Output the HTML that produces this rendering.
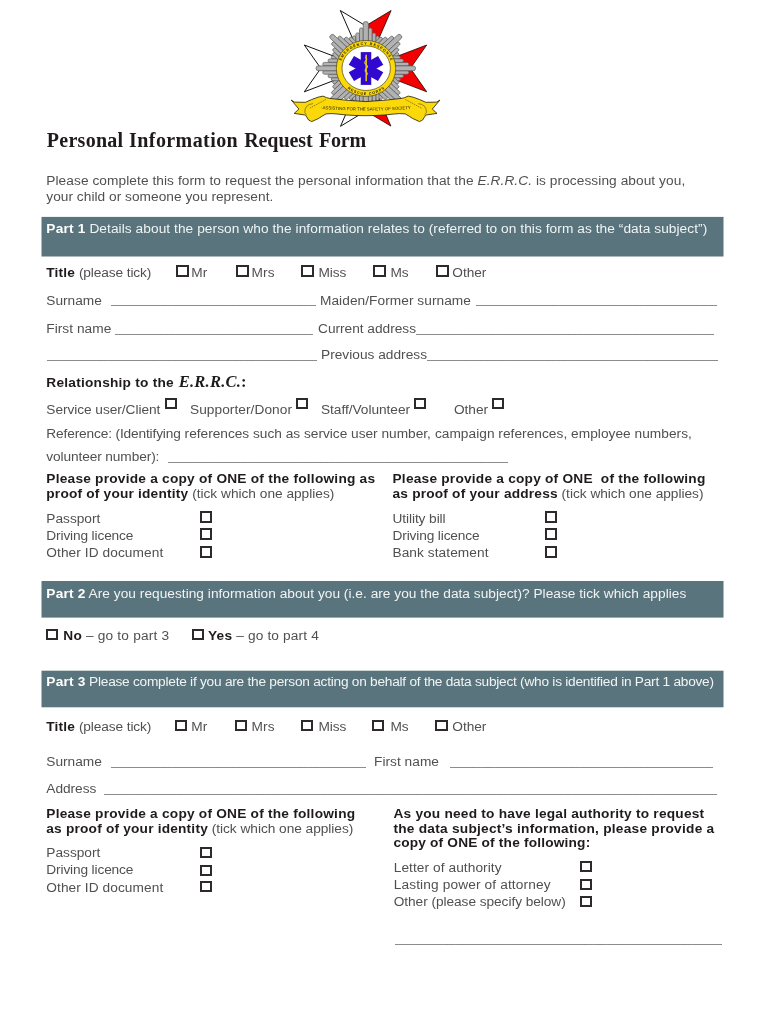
<!DOCTYPE html>
<html lang="en"><head><meta charset="utf-8"><title>Personal Information Request Form</title>
<style>
html,body{margin:0;padding:0;background:#fff;}
body{width:770px;height:1024px;position:relative;overflow:hidden;font-family:"Liberation Sans",sans-serif;color:#505052;}
.t{position:absolute;white-space:pre;line-height:1;margin:0;padding:0;}
.b{font-weight:bold;color:#1f1b1c;}
span.b{letter-spacing:.2px;}
.w{color:#f1f4f5;}
.w .b{color:#fff;}
.i{font-style:italic;}
.u{color:#77777a;padding-bottom:4px;}
.bars{position:absolute;left:0;top:0;}
.cb{position:absolute;box-sizing:border-box;border-style:solid;border-color:#2e2a2b;background:#fff;}
.serif{font-family:"Liberation Serif",serif;}
#logo{position:absolute;left:280px;top:0;}
</style></head>
<body>
<svg id="logo" width="170" height="130" viewBox="280 0 170 130">
<g>
<polygon points="365.8,68.3 340.3,10.5 365.7,25.8" fill="#fff" stroke="#111" stroke-width="1.0" stroke-linejoin="miter" />
<polygon points="365.8,68.3 304.3,45.0 320.8,68.3 304.3,91.8" fill="#fff" stroke="#111" stroke-width="1.0" stroke-linejoin="miter" />
<polygon points="365.8,68.3 340.5,126.3 365.7,111.0" fill="#fff" stroke="#111" stroke-width="1.0" stroke-linejoin="miter" />
<polygon points="365.8,68.3 391.1,10.5 365.7,25.8" fill="#f40000" stroke="#220303" stroke-width="0.8" stroke-linejoin="miter" />
<polygon points="365.8,68.3 426.7,45.0 410.4,68.3 426.7,91.8" fill="#f40000" stroke="#220303" stroke-width="0.8" stroke-linejoin="miter" />
<polygon points="365.8,68.3 390.9,126.1 365.7,111.0" fill="#f40000" stroke="#220303" stroke-width="0.8" stroke-linejoin="miter" />
</g>
<g transform="translate(365.8,68.3) scale(1.065,1)">
<circle r="31.5" fill="#b2b2b2"/>
<g transform="rotate(0)">
<rect x="9.40" y="-32.40" width="3.00" height="12.40" rx="1.6" fill="#b2b2b2" stroke="#5c5c5c" stroke-width="0.7"/>
<rect x="-12.40" y="-32.40" width="3.00" height="12.40" rx="1.6" fill="#b2b2b2" stroke="#5c5c5c" stroke-width="0.7"/>
<rect x="5.90" y="-35.40" width="3.50" height="15.40" rx="1.6" fill="#b2b2b2" stroke="#5c5c5c" stroke-width="0.7"/>
<rect x="-9.40" y="-35.40" width="3.50" height="15.40" rx="1.6" fill="#b2b2b2" stroke="#5c5c5c" stroke-width="0.7"/>
<rect x="2.40" y="-40.40" width="3.50" height="20.40" rx="1.6" fill="#b2b2b2" stroke="#5c5c5c" stroke-width="0.7"/>
<rect x="-5.90" y="-40.40" width="3.50" height="20.40" rx="1.6" fill="#b2b2b2" stroke="#5c5c5c" stroke-width="0.7"/>
<rect x="-2.4" y="-46.7" width="4.8" height="27" rx="2.2" fill="#b2b2b2" stroke="#5c5c5c" stroke-width="0.7"/>
</g>
<g transform="rotate(45)">
<rect x="9.40" y="-32.40" width="3.00" height="12.40" rx="1.6" fill="#b2b2b2" stroke="#5c5c5c" stroke-width="0.7"/>
<rect x="-12.40" y="-32.40" width="3.00" height="12.40" rx="1.6" fill="#b2b2b2" stroke="#5c5c5c" stroke-width="0.7"/>
<rect x="5.90" y="-35.40" width="3.50" height="15.40" rx="1.6" fill="#b2b2b2" stroke="#5c5c5c" stroke-width="0.7"/>
<rect x="-9.40" y="-35.40" width="3.50" height="15.40" rx="1.6" fill="#b2b2b2" stroke="#5c5c5c" stroke-width="0.7"/>
<rect x="2.40" y="-40.40" width="3.50" height="20.40" rx="1.6" fill="#b2b2b2" stroke="#5c5c5c" stroke-width="0.7"/>
<rect x="-5.90" y="-40.40" width="3.50" height="20.40" rx="1.6" fill="#b2b2b2" stroke="#5c5c5c" stroke-width="0.7"/>
<rect x="-2.4" y="-46.7" width="4.8" height="27" rx="2.2" fill="#b2b2b2" stroke="#5c5c5c" stroke-width="0.7"/>
</g>
<g transform="rotate(90)">
<rect x="9.40" y="-32.40" width="3.00" height="12.40" rx="1.6" fill="#b2b2b2" stroke="#5c5c5c" stroke-width="0.7"/>
<rect x="-12.40" y="-32.40" width="3.00" height="12.40" rx="1.6" fill="#b2b2b2" stroke="#5c5c5c" stroke-width="0.7"/>
<rect x="5.90" y="-35.40" width="3.50" height="15.40" rx="1.6" fill="#b2b2b2" stroke="#5c5c5c" stroke-width="0.7"/>
<rect x="-9.40" y="-35.40" width="3.50" height="15.40" rx="1.6" fill="#b2b2b2" stroke="#5c5c5c" stroke-width="0.7"/>
<rect x="2.40" y="-40.40" width="3.50" height="20.40" rx="1.6" fill="#b2b2b2" stroke="#5c5c5c" stroke-width="0.7"/>
<rect x="-5.90" y="-40.40" width="3.50" height="20.40" rx="1.6" fill="#b2b2b2" stroke="#5c5c5c" stroke-width="0.7"/>
<rect x="-2.4" y="-46.7" width="4.8" height="27" rx="2.2" fill="#b2b2b2" stroke="#5c5c5c" stroke-width="0.7"/>
</g>
<g transform="rotate(135)">
<rect x="9.40" y="-32.40" width="3.00" height="12.40" rx="1.6" fill="#b2b2b2" stroke="#5c5c5c" stroke-width="0.7"/>
<rect x="-12.40" y="-32.40" width="3.00" height="12.40" rx="1.6" fill="#b2b2b2" stroke="#5c5c5c" stroke-width="0.7"/>
<rect x="5.90" y="-35.40" width="3.50" height="15.40" rx="1.6" fill="#b2b2b2" stroke="#5c5c5c" stroke-width="0.7"/>
<rect x="-9.40" y="-35.40" width="3.50" height="15.40" rx="1.6" fill="#b2b2b2" stroke="#5c5c5c" stroke-width="0.7"/>
<rect x="2.40" y="-40.40" width="3.50" height="20.40" rx="1.6" fill="#b2b2b2" stroke="#5c5c5c" stroke-width="0.7"/>
<rect x="-5.90" y="-40.40" width="3.50" height="20.40" rx="1.6" fill="#b2b2b2" stroke="#5c5c5c" stroke-width="0.7"/>
<rect x="-2.4" y="-46.7" width="4.8" height="27" rx="2.2" fill="#b2b2b2" stroke="#5c5c5c" stroke-width="0.7"/>
</g>
<g transform="rotate(180)">
<rect x="9.40" y="-32.40" width="3.00" height="12.40" rx="1.6" fill="#b2b2b2" stroke="#5c5c5c" stroke-width="0.7"/>
<rect x="-12.40" y="-32.40" width="3.00" height="12.40" rx="1.6" fill="#b2b2b2" stroke="#5c5c5c" stroke-width="0.7"/>
<rect x="5.90" y="-35.40" width="3.50" height="15.40" rx="1.6" fill="#b2b2b2" stroke="#5c5c5c" stroke-width="0.7"/>
<rect x="-9.40" y="-35.40" width="3.50" height="15.40" rx="1.6" fill="#b2b2b2" stroke="#5c5c5c" stroke-width="0.7"/>
<rect x="2.40" y="-40.40" width="3.50" height="20.40" rx="1.6" fill="#b2b2b2" stroke="#5c5c5c" stroke-width="0.7"/>
<rect x="-5.90" y="-40.40" width="3.50" height="20.40" rx="1.6" fill="#b2b2b2" stroke="#5c5c5c" stroke-width="0.7"/>
<rect x="-2.4" y="-46.7" width="4.8" height="27" rx="2.2" fill="#b2b2b2" stroke="#5c5c5c" stroke-width="0.7"/>
</g>
<g transform="rotate(225)">
<rect x="9.40" y="-32.40" width="3.00" height="12.40" rx="1.6" fill="#b2b2b2" stroke="#5c5c5c" stroke-width="0.7"/>
<rect x="-12.40" y="-32.40" width="3.00" height="12.40" rx="1.6" fill="#b2b2b2" stroke="#5c5c5c" stroke-width="0.7"/>
<rect x="5.90" y="-35.40" width="3.50" height="15.40" rx="1.6" fill="#b2b2b2" stroke="#5c5c5c" stroke-width="0.7"/>
<rect x="-9.40" y="-35.40" width="3.50" height="15.40" rx="1.6" fill="#b2b2b2" stroke="#5c5c5c" stroke-width="0.7"/>
<rect x="2.40" y="-40.40" width="3.50" height="20.40" rx="1.6" fill="#b2b2b2" stroke="#5c5c5c" stroke-width="0.7"/>
<rect x="-5.90" y="-40.40" width="3.50" height="20.40" rx="1.6" fill="#b2b2b2" stroke="#5c5c5c" stroke-width="0.7"/>
<rect x="-2.4" y="-46.7" width="4.8" height="27" rx="2.2" fill="#b2b2b2" stroke="#5c5c5c" stroke-width="0.7"/>
</g>
<g transform="rotate(270)">
<rect x="9.40" y="-32.40" width="3.00" height="12.40" rx="1.6" fill="#b2b2b2" stroke="#5c5c5c" stroke-width="0.7"/>
<rect x="-12.40" y="-32.40" width="3.00" height="12.40" rx="1.6" fill="#b2b2b2" stroke="#5c5c5c" stroke-width="0.7"/>
<rect x="5.90" y="-35.40" width="3.50" height="15.40" rx="1.6" fill="#b2b2b2" stroke="#5c5c5c" stroke-width="0.7"/>
<rect x="-9.40" y="-35.40" width="3.50" height="15.40" rx="1.6" fill="#b2b2b2" stroke="#5c5c5c" stroke-width="0.7"/>
<rect x="2.40" y="-40.40" width="3.50" height="20.40" rx="1.6" fill="#b2b2b2" stroke="#5c5c5c" stroke-width="0.7"/>
<rect x="-5.90" y="-40.40" width="3.50" height="20.40" rx="1.6" fill="#b2b2b2" stroke="#5c5c5c" stroke-width="0.7"/>
<rect x="-2.4" y="-46.7" width="4.8" height="27" rx="2.2" fill="#b2b2b2" stroke="#5c5c5c" stroke-width="0.7"/>
</g>
<g transform="rotate(315)">
<rect x="9.40" y="-32.40" width="3.00" height="12.40" rx="1.6" fill="#b2b2b2" stroke="#5c5c5c" stroke-width="0.7"/>
<rect x="-12.40" y="-32.40" width="3.00" height="12.40" rx="1.6" fill="#b2b2b2" stroke="#5c5c5c" stroke-width="0.7"/>
<rect x="5.90" y="-35.40" width="3.50" height="15.40" rx="1.6" fill="#b2b2b2" stroke="#5c5c5c" stroke-width="0.7"/>
<rect x="-9.40" y="-35.40" width="3.50" height="15.40" rx="1.6" fill="#b2b2b2" stroke="#5c5c5c" stroke-width="0.7"/>
<rect x="2.40" y="-40.40" width="3.50" height="20.40" rx="1.6" fill="#b2b2b2" stroke="#5c5c5c" stroke-width="0.7"/>
<rect x="-5.90" y="-40.40" width="3.50" height="20.40" rx="1.6" fill="#b2b2b2" stroke="#5c5c5c" stroke-width="0.7"/>
<rect x="-2.4" y="-46.7" width="4.8" height="27" rx="2.2" fill="#b2b2b2" stroke="#5c5c5c" stroke-width="0.7"/>
</g>
</g>
<ellipse cx="366.0" cy="68.4" rx="29.7" ry="28.0" fill="#fbd80a" stroke="#4a4210" stroke-width="0.7"/>
<ellipse cx="366.2" cy="68.2" rx="24.2" ry="22.3" fill="#fff" stroke="#4a4210" stroke-width="0.7"/>
<defs><path id="arcT" d="M 339.6,69.4 A 26.4,24.6 0 0 1 392.4,69.4"/><path id="arcB" d="M 337.8,68.4 A 28.2,26.6 0 0 0 394.2,68.4"/><path id="banT" d="M 319,108.7 Q 366,112.5 413,108.7"/></defs>
<text font-family="Liberation Sans, sans-serif" font-weight="bold" fill="#1c1803" font-size="3.7"><textPath href="#arcT" startOffset="50%" text-anchor="middle" textLength="62">EMERGENCY RESPONSE</textPath></text>
<text font-family="Liberation Sans, sans-serif" font-weight="bold" fill="#1c1803" font-size="3.7"><textPath href="#arcB" startOffset="50%" text-anchor="middle" textLength="40">RESCUE CORPS</textPath></text>
<g transform="translate(366,68.5) scale(1.03,1)" fill="#3008d0">
<rect x="-5.1" y="-16.4" width="10.2" height="32.8" transform="rotate(0)"/>
<rect x="-5.1" y="-16.4" width="10.2" height="32.8" transform="rotate(60)"/>
<rect x="-5.1" y="-16.4" width="10.2" height="32.8" transform="rotate(120)"/>
</g>
<path d="M366.2,54.8 L366.2,81.2" stroke="#d9bc1c" stroke-width="1.6" fill="none"/>
<path d="M365.2,57 q2.6,1.6 0.8,3.6 q-2.6,2 0.2,4 q2.6,2 0,4 q-2.2,1.8 0.2,3.6 q1.8,1.6 0,3.2" stroke="#e6c81e" stroke-width="1.1" fill="none"/>
<polygon points="291.3,100.1 294.6,102.1 305.5,102.3 311.7,99.5 318.0,97.2 323.0,96.1 326.5,97.6 329.6,98.4 346.0,100.2 365.6,101.6 385.2,100.2 401.6,98.4 404.7,97.6 408.2,96.1 413.2,97.2 419.5,99.5 425.7,102.3 436.6,102.1 439.9,100.1 432.3,109.1 437.0,113.4 425.7,115.1 422.6,120.0 419.5,121.6 412.5,118.4 409.2,116.2 405.2,113.9 399.2,113.6 393.2,114.1 384.4,115.0 375.2,115.5 365.6,115.7 356.0,115.5 346.8,115.0 338.0,114.1 332.0,113.6 326.0,113.9 322.0,116.2 318.7,118.4 311.7,121.6 308.6,120.0 305.5,115.1 294.2,113.4 298.9,109.1" fill="#fbd80a" stroke="#1e1a05" stroke-width="0.8" stroke-linejoin="miter" />
<path d="M326.0,99.4 L309.5,108.3" stroke="#3a3208" stroke-width="0.5" stroke-dasharray="1.6 0.8" fill="none"/>
<path d="M313.0,103.6 Q304.5,104.4 304.8,112.5 L306.5,114.6" stroke="#3a3208" stroke-width="0.5" fill="none"/>
<path d="M405.2,99.4 L421.7,108.3" stroke="#3a3208" stroke-width="0.5" stroke-dasharray="1.6 0.8" fill="none"/>
<path d="M418.2,103.6 Q426.7,104.4 426.4,112.5 L424.7,114.6" stroke="#3a3208" stroke-width="0.5" fill="none"/>
<text font-family="Liberation Sans, sans-serif" fill="#201c04" font-size="4.3"><textPath href="#banT" startOffset="50%" text-anchor="middle" textLength="90">·ASSISTING FOR THE SAFETY OF SOCIETY</textPath></text>
</svg>
<svg class="bars" width="770" height="1024" viewBox="0 0 770 1024"><rect x="41.5" y="216.9" width="682" height="39.6" fill="#59747c"/><rect x="41.5" y="581.0" width="682" height="36.6" fill="#59747c"/><rect x="41.5" y="670.7" width="682" height="36.6" fill="#59747c"/></svg>
<div class="t serif b" style="left:46.8px;top:130px;font-size:20px;letter-spacing:0.270px;">Personal</div>
<div class="t serif b" style="left:129.1px;top:130px;font-size:20px;letter-spacing:0.413px;">Information</div>
<div class="t serif b" style="left:244.2px;top:130px;font-size:20px;letter-spacing:-0.084px;">Request</div>
<div class="t serif b" style="left:319.0px;top:130px;font-size:20px;letter-spacing:-0.191px;">Form</div>
<div class="t" style="left:46.3px;top:174px;font-size:13.7px;letter-spacing:0.072px;">Please complete this form to request the personal information that the <span class="i">E.R.R.C.</span> is processing about you,</div>
<div class="t" style="left:46.3px;top:190px;font-size:13.7px;letter-spacing:0.029px;">your child or someone you represent.</div>
<div class="t w" style="left:46.3px;top:222px;font-size:13.7px;letter-spacing:0.067px;"><span class="b">Part 1</span> Details about the person who the information relates to (referred to on this form as the “data subject”)</div>
<div class="t" style="left:46.3px;top:266px;font-size:13.7px;letter-spacing:-0.106px;"><span class="b">Title</span> (please tick)</div>
<div class="t" style="left:191.2px;top:266px;font-size:13.7px;letter-spacing:0.266px;">Mr</div>
<div class="t" style="left:251.4px;top:266px;font-size:13.7px;letter-spacing:0.229px;">Mrs</div>
<div class="t" style="left:318.4px;top:266px;font-size:13.7px;letter-spacing:-0.035px;">Miss</div>
<div class="t" style="left:390.4px;top:266px;font-size:13.7px;letter-spacing:-0.125px;">Ms</div>
<div class="t" style="left:452.3px;top:266px;font-size:13.7px;letter-spacing:-0.047px;">Other</div>
<div class="t" style="left:46.3px;top:294px;font-size:13.7px;letter-spacing:-0.007px;">Surname</div>
<div class="t u" style="left:110.5px;top:292px;font-size:13.7px;width:205px;overflow:hidden;">__________________________________________________________________________________________</div>
<div class="t" style="left:320px;top:294px;font-size:13.7px;letter-spacing:0.054px;">Maiden/Former surname</div>
<div class="t u" style="left:476px;top:292px;font-size:13.7px;width:241px;overflow:hidden;">__________________________________________________________________________________________</div>
<div class="t" style="left:46.3px;top:322px;font-size:13.7px;letter-spacing:0.034px;">First name</div>
<div class="t u" style="left:114.5px;top:321px;font-size:13.7px;width:198.5px;overflow:hidden;">__________________________________________________________________________________________</div>
<div class="t" style="left:318px;top:322px;font-size:13.7px;letter-spacing:-0.009px;">Current address</div>
<div class="t u" style="left:416px;top:321px;font-size:13.7px;width:298.4px;overflow:hidden;">__________________________________________________________________________________________</div>
<div class="t u" style="left:46.5px;top:347px;font-size:13.7px;width:270px;overflow:hidden;">__________________________________________________________________________________________</div>
<div class="t" style="left:321px;top:348px;font-size:13.7px;letter-spacing:0.015px;">Previous address</div>
<div class="t u" style="left:427px;top:347px;font-size:13.7px;width:291px;overflow:hidden;">__________________________________________________________________________________________</div>
<div class="t b" style="left:46.3px;top:376px;font-size:13.7px;letter-spacing:0.232px;">Relationship to the</div>
<div class="t serif b" style="left:178.8px;top:374px;font-size:16.5px;letter-spacing:0.219px;"><span class="i">E.R.R.C.</span>:</div>
<div class="t" style="left:46.3px;top:403px;font-size:13.7px;letter-spacing:-0.046px;">Service user/Client</div>
<div class="t" style="left:190px;top:403px;font-size:13.7px;letter-spacing:0.053px;">Supporter/Donor</div>
<div class="t" style="left:321px;top:403px;font-size:13.7px;letter-spacing:-0.036px;">Staff/Volunteer</div>
<div class="t" style="left:454px;top:403px;font-size:13.7px;letter-spacing:-0.047px;">Other</div>
<div class="t" style="left:46.3px;top:427px;font-size:13.7px;letter-spacing:-0.144px;">Reference: (Identifying</div>
<div class="t" style="left:184.6px;top:427px;font-size:13.7px;letter-spacing:-0.005px;">references such as service user number,</div>
<div class="t" style="left:434.9px;top:427px;font-size:13.7px;letter-spacing:0.036px;">campaign references, employee numbers,</div>
<div class="t" style="left:46.3px;top:450px;font-size:13.7px;letter-spacing:-0.105px;">volunteer number):</div>
<div class="t u" style="left:168px;top:449px;font-size:13.7px;width:340px;overflow:hidden;">__________________________________________________________________________________________</div>
<div class="t b" style="left:46.3px;top:472px;font-size:13.7px;letter-spacing:0.231px;">Please provide a copy of ONE of the following as</div>
<div class="t" style="left:46.3px;top:487px;font-size:13.7px;letter-spacing:-0.004px;"><span class="b">proof of your identity</span> (tick which one applies)</div>
<div class="t b" style="left:392.5px;top:472px;font-size:13.7px;letter-spacing:0.224px;">Please provide a copy of ONE  of the following</div>
<div class="t" style="left:392.5px;top:487px;font-size:13.7px;letter-spacing:-0.014px;"><span class="b">as proof of your address</span> (tick which one applies)</div>
<div class="t" style="left:46.3px;top:512px;font-size:13.7px;letter-spacing:-0.002px;">Passport</div>
<div class="t" style="left:392.5px;top:512px;font-size:13.7px;letter-spacing:-0.083px;">Utility bill</div>
<div class="t" style="left:46.3px;top:529px;font-size:13.7px;letter-spacing:-0.134px;">Driving licence</div>
<div class="t" style="left:392.5px;top:529px;font-size:13.7px;letter-spacing:-0.134px;">Driving licence</div>
<div class="t" style="left:46.3px;top:546px;font-size:13.7px;letter-spacing:0.080px;">Other ID document</div>
<div class="t" style="left:392.5px;top:546px;font-size:13.7px;letter-spacing:0.064px;">Bank statement</div>
<div class="t w" style="left:46.3px;top:587px;font-size:13.7px;letter-spacing:0.027px;"><span class="b">Part 2</span> Are you requesting information about you (i.e. are you the data subject)? Please tick which applies</div>
<div class="t" style="left:63.3px;top:629px;font-size:13.7px;letter-spacing:0.192px;"><span class="b">No</span> – go to part 3</div>
<div class="t" style="left:208px;top:629px;font-size:13.7px;letter-spacing:0.155px;"><span class="b">Yes</span> – go to part 4</div>
<div class="t w" style="left:46.3px;top:675px;font-size:13.7px;letter-spacing:-0.249px;"><span class="b">Part 3</span> Please complete if you are the person acting on behalf of the data subject (who is identified in Part 1 above)</div>
<div class="t" style="left:46.3px;top:720px;font-size:13.7px;letter-spacing:-0.106px;"><span class="b">Title</span> (please tick)</div>
<div class="t" style="left:191.2px;top:720px;font-size:13.7px;letter-spacing:0.266px;">Mr</div>
<div class="t" style="left:251.4px;top:720px;font-size:13.7px;letter-spacing:0.229px;">Mrs</div>
<div class="t" style="left:318.4px;top:720px;font-size:13.7px;letter-spacing:-0.035px;">Miss</div>
<div class="t" style="left:390.4px;top:720px;font-size:13.7px;letter-spacing:-0.125px;">Ms</div>
<div class="t" style="left:452.3px;top:720px;font-size:13.7px;letter-spacing:-0.047px;">Other</div>
<div class="t" style="left:46.3px;top:755px;font-size:13.7px;letter-spacing:-0.007px;">Surname</div>
<div class="t u" style="left:110.5px;top:754px;font-size:13.7px;width:255px;overflow:hidden;">__________________________________________________________________________________________</div>
<div class="t" style="left:374px;top:755px;font-size:13.7px;letter-spacing:0.034px;">First name</div>
<div class="t u" style="left:450px;top:754px;font-size:13.7px;width:263px;overflow:hidden;">__________________________________________________________________________________________</div>
<div class="t" style="left:46.3px;top:782px;font-size:13.7px;letter-spacing:-0.031px;">Address</div>
<div class="t u" style="left:104px;top:781px;font-size:13.7px;width:613px;overflow:hidden;">__________________________________________________________________________________________</div>
<div class="t b" style="left:46.3px;top:807px;font-size:13.7px;letter-spacing:0.225px;">Please provide a copy of ONE of the following</div>
<div class="t" style="left:46.3px;top:822px;font-size:13.7px;letter-spacing:-0.029px;"><span class="b">as proof of your identity</span> (tick which one applies)</div>
<div class="t b" style="left:393.4px;top:807px;font-size:13.7px;letter-spacing:0.230px;">As you need to have legal authority to request</div>
<div class="t b" style="left:393.4px;top:822px;font-size:13.7px;letter-spacing:0.249px;">the data subject’s information, please provide a</div>
<div class="t b" style="left:393.4px;top:836px;font-size:13.7px;letter-spacing:0.186px;">copy of ONE of the following:</div>
<div class="t" style="left:46.3px;top:846px;font-size:13.7px;letter-spacing:-0.002px;">Passport</div>
<div class="t" style="left:46.3px;top:863px;font-size:13.7px;letter-spacing:-0.134px;">Driving licence</div>
<div class="t" style="left:46.3px;top:881px;font-size:13.7px;letter-spacing:0.080px;">Other ID document</div>
<div class="t" style="left:393.7px;top:861px;font-size:13.7px;letter-spacing:0.077px;">Letter of authority</div>
<div class="t" style="left:393.7px;top:878px;font-size:13.7px;letter-spacing:0.132px;">Lasting power of attorney</div>
<div class="t" style="left:393.7px;top:895px;font-size:13.7px;letter-spacing:-0.052px;">Other (please specify below)</div>
<div class="t u" style="left:394.5px;top:931px;font-size:13.7px;width:327px;overflow:hidden;">__________________________________________________________________________________________</div>
<div class="cb" style="left:176px;top:265.00px;width:13px;height:12px;border-width:2px"></div>
<div class="cb" style="left:236px;top:265.00px;width:13px;height:12px;border-width:2px"></div>
<div class="cb" style="left:301px;top:265.00px;width:13px;height:12px;border-width:2px"></div>
<div class="cb" style="left:373px;top:265.00px;width:13px;height:12px;border-width:2px"></div>
<div class="cb" style="left:435.5px;top:265.00px;width:13px;height:12px;border-width:2px"></div>
<div class="cb" style="left:165px;top:398.00px;width:12px;height:11px;border-width:2px"></div>
<div class="cb" style="left:296px;top:398.00px;width:12px;height:11px;border-width:2px"></div>
<div class="cb" style="left:414px;top:398.00px;width:12px;height:11px;border-width:2px"></div>
<div class="cb" style="left:492px;top:398.00px;width:12px;height:11px;border-width:2px"></div>
<div class="cb" style="left:200px;top:511.00px;width:12px;height:12px;border-width:2px"></div>
<div class="cb" style="left:545px;top:511.00px;width:12px;height:12px;border-width:2px"></div>
<div class="cb" style="left:200px;top:528.00px;width:12px;height:12px;border-width:2px"></div>
<div class="cb" style="left:545px;top:528.00px;width:12px;height:12px;border-width:2px"></div>
<div class="cb" style="left:200px;top:546.00px;width:12px;height:12px;border-width:2px"></div>
<div class="cb" style="left:545px;top:546.00px;width:12px;height:12px;border-width:2px"></div>
<div class="cb" style="left:46px;top:629.00px;width:12px;height:11px;border-width:2px"></div>
<div class="cb" style="left:192px;top:629.00px;width:12px;height:11px;border-width:2px"></div>
<div class="cb" style="left:175px;top:720.00px;width:12px;height:11px;border-width:2px"></div>
<div class="cb" style="left:235px;top:720.00px;width:12px;height:11px;border-width:2px"></div>
<div class="cb" style="left:301px;top:720.00px;width:12px;height:11px;border-width:2px"></div>
<div class="cb" style="left:372px;top:720.00px;width:12px;height:11px;border-width:2px"></div>
<div class="cb" style="left:435px;top:720.00px;width:13px;height:11px;border-width:2px"></div>
<div class="cb" style="left:200px;top:847.00px;width:12px;height:11px;border-width:2px"></div>
<div class="cb" style="left:200px;top:865.00px;width:12px;height:11px;border-width:2px"></div>
<div class="cb" style="left:200px;top:881.00px;width:12px;height:11px;border-width:2px"></div>
<div class="cb" style="left:580px;top:861.00px;width:12px;height:11px;border-width:2px"></div>
<div class="cb" style="left:580px;top:879.00px;width:12px;height:11px;border-width:2px"></div>
<div class="cb" style="left:580px;top:896.00px;width:12px;height:11px;border-width:2px"></div>
</body></html>
